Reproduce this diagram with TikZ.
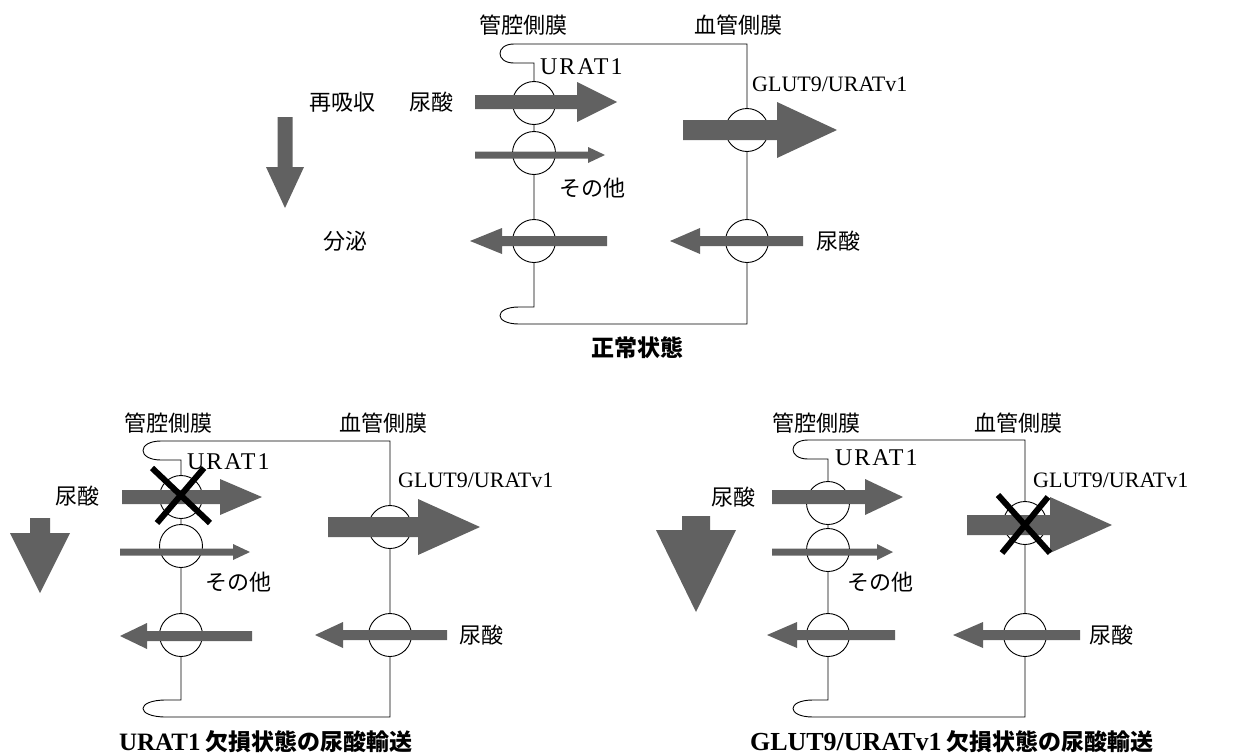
\documentclass[tikz,border=0pt]{standalone}
\usepackage{fontspec}
\setmainfont{Liberation Serif}
\newfontfamily\jp{Noto Sans CJK JP}
\newfontfamily\wideserif[LetterSpace=8]{Liberation Serif}
\usetikzlibrary{calc}
\tikzset{
  memb/.style={draw=black, line width=0.9pt},
  pore/.style={circle, draw=black, line width=0.9pt, fill=white, minimum size=43pt, inner sep=0pt},
  flow/.style={fill=black!62},
  xmark/.style={draw=black, line width=6pt},
  jlbl/.style={font=\jp\fontsize{22}{24}\selectfont, inner sep=0pt},
  llbl/.style={font=\fontsize{22}{24}\selectfont, inner sep=0pt, anchor=west},
  wlbl/.style={font=\wideserif\fontsize{24}{25}\selectfont, inner sep=0pt, anchor=west},
  captxt/.style={font=\jp\bfseries\fontsize{23}{26}\selectfont, inner sep=0pt},
}
% horizontal block arrow: tail x, tip x, y, shaft half, head half, head base x
\newcommand\flowH[6]{\fill[flow] ({#1},{#3-#4}) -- ({#6},{#3-#4}) -- ({#6},{#3-#5}) -- ({#2},{#3}) -- ({#6},{#3+#5}) -- ({#6},{#3+#4}) -- ({#1},{#3+#4}) -- cycle;}
% vertical block arrow: x, top y, tip y, shaft half, head half, head start y
\newcommand\flowV[6]{\fill[flow] ({#1-#4},{#2}) -- ({#1-#4},{#6}) -- ({#1-#5},{#6}) -- ({#1},{#3}) -- ({#1+#5},{#6}) -- ({#1+#4},{#6}) -- ({#1+#4},{#2}) -- cycle;}
% membrane outline: xL, xR, ytop, ybot, leftmost x of loops
\newcommand\membrane[5]{\draw[memb] ({#2},{#3}) -- ({#1-20},{#3}) .. controls ({(4*#5-(#1-20))/3},{#3}) and ({(4*#5-(#1-20))/3},{#3+19}) .. ({#1-20},{#3+19}) -- ({#1},{#3+19}) -- ({#1},{#4-17}) -- ({#1-15},{#4-17}) .. controls ({(4*#5-(#1-15))/3},{#4-17}) and ({(4*#5-(#1-15))/3},{#4}) .. ({#1-15},{#4}) -- ({#2},{#4}) -- cycle;}
\begin{document}
\begin{tikzpicture}[x=1pt,y=-1pt]
\useasboundingbox (0,0) rectangle (1259,755);

%================ top panel: normal state
\membrane{534}{747}{44}{324}{500}
\node[pore] (tA) at (534,103) {};
\node[pore] (tB) at (534,153) {};
\node[pore] (tC) at (534,241) {};
\node[pore] (tD) at (747,130) {};
\node[pore] (tE) at (747,241) {};
\flowH{475}{617}{102}{7}{20}{577}
\flowH{475}{605}{155}{3.5}{8}{588}
\flowH{607}{470}{241}{5}{13}{502}
\flowH{683}{837}{130}{10}{28}{777}
\flowH{803}{670}{241}{5}{13}{700}
\flowV{285}{117}{208}{7.5}{19}{167}
\node[jlbl] (tl1) at (523,25) {管腔側膜};
\node[jlbl] (tl2) at (738,25) {血管側膜};
\node[wlbl] (tl3) at (540,67) {URAT1};
\node[llbl] (tl4) at (752,84) {GLUT9/URATv1};
\node[jlbl] (tl5) at (592,188) {その他};
\node[jlbl] (tl6) at (342,102) {再吸収};
\node[jlbl] (tl7) at (431,102) {尿酸};
\node[jlbl] (tl8) at (345,241) {分泌};
\node[jlbl] (tl9) at (838,241) {尿酸};
\node[captxt] (tcap) at (637,348) {正常状態};

%================ bottom-left panel: URAT1 deficiency
\membrane{181}{390}{441}{717}{143}
\node[pore] (lA) at (181,497) {};
\node[pore] (lB) at (181,546) {};
\node[pore] (lC) at (181,635) {};
\node[pore] (lD) at (390,527) {};
\node[pore] (lE) at (390,635) {};
\flowH{122}{262}{497}{7}{18}{220}
\flowH{120}{250}{552}{3.5}{8}{233}
\flowH{252}{120}{636}{5}{13}{147}
\flowH{328}{480}{527}{10}{28}{418}
\flowH{447}{315}{635}{5}{13}{343}
\flowV{40}{518}{593}{10}{30}{533}
\draw[xmark] (152,468) -- (210,523);
\draw[xmark] (204,468) -- (157,523);
\node[jlbl] (ll1) at (168,423) {管腔側膜};
\node[jlbl] (ll2) at (383,423) {血管側膜};
\node[wlbl] (ll3) at (187,462) {URAT1};
\node[llbl] (ll4) at (398,480) {GLUT9/URATv1};
\node[jlbl] (ll5) at (77,496) {尿酸};
\node[jlbl] (ll6) at (238,582) {その他};
\node[jlbl] (ll7) at (481,635) {尿酸};
\node[captxt] (lcap) at (266,742) {{\rmfamily\fontsize{25}{26}\selectfont URAT1} 欠損状態の尿酸輸送};

%================ bottom-right panel: GLUT9/URATv1 deficiency
\membrane{828}{1025}{440}{717}{793}
\node[pore] (rA) at (828,503) {};
\node[pore] (rB) at (828,550) {};
\node[pore] (rC) at (828,635) {};
\node[pore] (rD) at (1025,523) {};
\node[pore] (rE) at (1025,635) {};
\flowH{772}{903}{497}{7}{18}{865}
\flowH{772}{893}{552}{3.5}{8}{877}
\flowH{895}{767}{635}{5}{13}{797}
\flowH{967}{1112}{525}{10}{28}{1050}
\flowH{1080}{953}{635}{5}{13}{983}
\flowV{696}{516}{612}{14}{40}{530}
\draw[xmark] (998,495) -- (1050,553);
\draw[xmark] (1048,497) -- (1002,553);
\node[jlbl] (rl1) at (816,423) {管腔側膜};
\node[jlbl] (rl2) at (1018,423) {血管側膜};
\node[wlbl] (rl3) at (835,458) {URAT1};
\node[llbl] (rl4) at (1033,480) {GLUT9/URATv1};
\node[jlbl] (rl5) at (733,497) {尿酸};
\node[jlbl] (rl6) at (880,582) {その他};
\node[jlbl] (rl7) at (1111,635) {尿酸};
\node[captxt] (rcap) at (952,742) {{\rmfamily\fontsize{26}{27}\selectfont GLUT9/URATv1} 欠損状態の尿酸輸送};
\end{tikzpicture}
\end{document}
